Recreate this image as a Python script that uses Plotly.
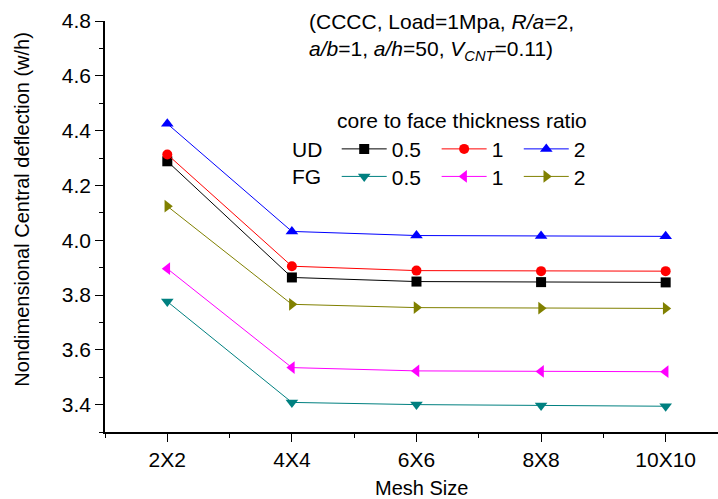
import plotly.graph_objects as go

mesh_labels = ["2X2", "4X4", "6X6", "8X8", "10X10"]
mesh_pos = [1, 2, 3, 4, 5]

ud_05 = [4.288, 3.864, 3.849, 3.847, 3.846]
ud_1 = [4.313, 3.905, 3.889, 3.887, 3.887]
ud_2 = [4.425, 4.032, 4.017, 4.015, 4.014]
fg_05 = [3.776, 3.408, 3.400, 3.397, 3.394]
fg_1 = [3.896, 3.535, 3.523, 3.521, 3.520]
fg_2 = [4.124, 3.766, 3.754, 3.752, 3.751]

FONT = "Liberation Sans, Arial, sans-serif"
FS = 21

series = [
    ("0.5", ud_05, "#000000", "square", 10, "legend"),
    ("1", ud_1, "#FF0000", "circle", 10, "legend2"),
    ("2", ud_2, "#0000FF", "triangle-up", 11, "legend3"),
    ("0.5", fg_05, "#008080", "triangle-down", 11, "legend4"),
    ("1", fg_1, "#FF00FF", "triangle-left", 11, "legend5"),
    ("2", fg_2, "#808000", "triangle-right", 11, "legend6"),
]

fig = go.Figure()
for name, vals, col, sym, sz, lg in series:
    fig.add_trace(go.Scatter(
        x=mesh_pos, y=vals, name=name, mode="lines+markers",
        line=dict(color=col, width=1),
        marker=dict(color=col, symbol=sym, size=sz, line=dict(width=0)),
        legend=lg,
    ))

# legend positions (paper coords)
row_ud = 0.688
row_fg = 0.621
cols = [0.378, 0.541, 0.675]
legend_common = dict(orientation="h", xanchor="left", yanchor="middle",
                     bgcolor="rgba(0,0,0,0)", borderwidth=0,
                     font=dict(family=FONT, size=FS, color="black"),
                     itemwidth=45)
legend_layout = {}
keys = ["legend", "legend2", "legend3", "legend4", "legend5", "legend6"]
for i, k in enumerate(keys):
    legend_layout[k] = dict(legend_common, x=cols[i % 3], y=row_ud if i < 3 else row_fg)

fig.update_layout(
    width=718, height=499,
    margin=dict(l=105, r=0, t=21, b=67),
    plot_bgcolor="white", paper_bgcolor="white",
    font=dict(family=FONT, size=FS, color="black"),
    showlegend=True,
    **legend_layout,
    xaxis=dict(
        range=[0.5, 5.42], tickmode="array", tickvals=mesh_pos, ticktext=mesh_labels,
        showline=True, linecolor="black", linewidth=1.5, mirror=False,
        ticks="outside", ticklen=8, tickwidth=1.3, tickcolor="black",
        showgrid=False, zeroline=False,
        minor=dict(tick0=0.5, dtick=1, ticks="outside", ticklen=4, tickwidth=1.3, tickcolor="black", showgrid=False),
        tickfont=dict(family=FONT, size=FS),
    ),
    yaxis=dict(
        range=[3.3, 4.8], tick0=3.4, dtick=0.2, tickformat=".1f",
        showline=True, linecolor="black", linewidth=1.5, mirror=False,
        ticks="outside", ticklen=8, tickwidth=1.3, tickcolor="black",
        showgrid=False, zeroline=False,
        minor=dict(tick0=3.3, dtick=0.1, ticks="outside", ticklen=4, tickwidth=1.3, tickcolor="black", showgrid=False),
        tickfont=dict(family=FONT, size=FS),
    ),
)

annotations = [
    dict(text="(CCCC, Load=1Mpa, <i>R/a</i>=2,<br><i>a/b</i>=1, <i>a/h</i>=50, <i>V</i><sub><i>CNT</i></sub>=0.11)",
         x=0.329, y=1.032, xref="paper", yref="paper", xanchor="left", yanchor="top",
         align="left", showarrow=False, font=dict(family=FONT, size=FS)),
    dict(text="core to face thickness ratio", x=0.375, y=0.757, xref="paper", yref="paper",
         xanchor="left", yanchor="middle", showarrow=False, font=dict(family=FONT, size=FS)),
    dict(text="UD", x=0.302, y=row_ud, xref="paper", yref="paper",
         xanchor="left", yanchor="middle", showarrow=False, font=dict(family=FONT, size=FS)),
    dict(text="FG", x=0.302, y=row_fg, xref="paper", yref="paper",
         xanchor="left", yanchor="middle", showarrow=False, font=dict(family=FONT, size=FS)),
    dict(text="Mesh Size", x=0.516, y=-0.136, xref="paper", yref="paper",
         xanchor="center", yanchor="middle", showarrow=False, font=dict(family=FONT, size=20)),
    dict(text="Nondimensional Central deflection (w/h)", x=-0.1346, y=0.542, xref="paper", yref="paper",
         xanchor="center", yanchor="middle", textangle=-90, showarrow=False, font=dict(family=FONT, size=20)),
]
fig.update_layout(annotations=annotations)

fig.write_html("out.html")
